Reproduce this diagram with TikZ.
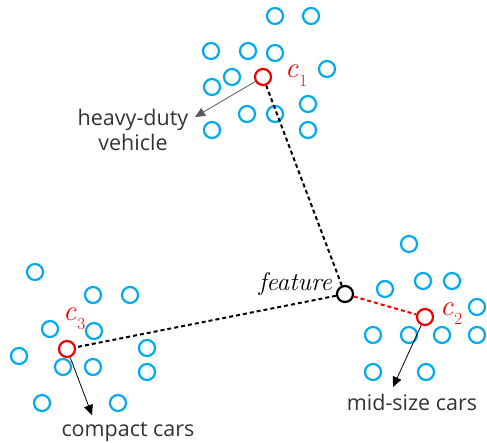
\documentclass[tikz,border=0pt]{standalone}
\usepackage{fontspec}
\newfontfamily\labfont{Open Sans}
\usetikzlibrary{arrows.meta}
\definecolor{ptblue}{RGB}{0,170,235}
\definecolor{ptred}{RGB}{240,0,0}
\newcommand{\ctr}[1]{{\fontsize{29}{29}\selectfont\itshape c}\kern1pt\raisebox{-9.5pt}{\fontsize{17}{17}\selectfont #1}}
\begin{document}
\begin{tikzpicture}[x=1pt,y=-1pt,
  pt/.style={circle,draw=ptblue,line width=2.2pt,minimum size=16pt,inner sep=0pt},
  cen/.style={circle,draw=ptred,line width=2.2pt,minimum size=16pt,inner sep=0pt},
  feat/.style={circle,draw=black,line width=2.2pt,minimum size=16pt,inner sep=0pt},
  clab/.style={text=ptred,inner sep=0pt},
  lab/.style={font=\labfont\fontsize{21.5}{25}\selectfont,text=black!80,inner sep=0pt,align=center},
  dist/.style={dashed,line width=2pt,dash pattern=on 4pt off 3pt},
  ptr/.style={draw=black!65,line width=0.8pt,-{Triangle[length=10pt,width=9pt]}}]
\useasboundingbox (0,0) rectangle (487,442);
% cluster 1
\foreach \x/\y [count=\i] in {275/16,311/16,211/51,248/51,275/53,327/69,232/77,212/87,308/104,247/114,275/114,212/130,308/130}
  \node[pt] (a\i) at (\x,\y) {};
\node[cen] (c1) at (263,77) {};
\node[clab,anchor=base west] (l1) at (285,77) {\ctr{1}};
% cluster 2
\foreach \x/\y [count=\i] in {409/244,385/289,423/281,452/281,477/307,373/335,409/335,442/335,477/335,373/372,426/372}
  \node[pt] (b\i) at (\x,\y) {};
\node[cen] (c2) at (425,317) {};
\node[clab,anchor=base west] (l2) at (440,315) {\ctr{2}};
% cluster 3
\foreach \x/\y [count=\i] in {35/272,93/295,130/295,50/329,94/331,19/356,147/348,63/367,93/367,147/372,42/403,118/403}
  \node[pt] (d\i) at (\x,\y) {};
\node[cen] (c3) at (67,349) {};
\node[clab,anchor=base west] (l3) at (63,320) {\ctr{3}};
% feature
\node[feat] (f) at (345,294) {};
\node[anchor=base east,inner sep=0pt,font=\fontsize{25.5}{26}\selectfont\itshape] (fl) at (332,290) {feature};
% distances
\draw[dist] (f) -- (c1);
\draw[dist] (f) -- (c3);
\draw[dist,draw=ptred] (f) -- (c2);
% pointers
\coordinate (t1) at (195,117);
\coordinate (t2) at (393,387);
\coordinate (t3) at (92,415);
\draw[ptr] (c1) -- (t1);
\draw[ptr,draw=black] (c2) -- (t2);
\draw[ptr,draw=black] (c3) -- (t3);
\node[lab] (n1) at (133,130) {heavy-duty\\vehicle};
\node[lab] (n2) at (412,402) {mid-size cars};
\node[lab] (n3) at (128,432) {compact cars};
\end{tikzpicture}
\end{document}
